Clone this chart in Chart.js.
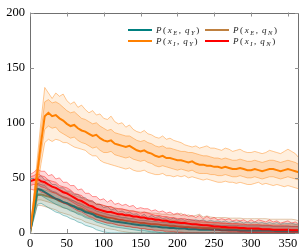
<!DOCTYPE html>
<html>
<head>
<meta charset="utf-8">
<script src="https://cdn.jsdelivr.net/npm/chart.js@4"></script>
<style>
  html, body { margin: 0; padding: 0; background: #fff; }
</style>
</head>
<body>
<canvas id="chart" width="304" height="252"></canvas>
<script>
// x positions (days)
const days = [0,5,10,15,20,25,30,35,40,45, 50,55,60,65,70,75,80,85,90,95,
  100,105,110,115,120,125,130,135,140,145, 150,155,160,165,170,175,180,185,190,195,
  200,205,210,215,220,225,230,235,240,245, 250,255,260,265,270,275,280,285,290,295,
  300,305,310,315,320,325,330,335,340,345, 350,355,360,365];

const yTicks = [0, 50, 100, 150, 200];
const xTicks = [0, 50, 100, 150, 200, 250, 300, 350];

// P(x_I, q_Y) - orange
const orangeMean = [0,27,55,82,106,109,106,107,104,102, 99,97,98,95,93,92,90,88,89,86,
  84,83,84,81,80,79,78,79,77,75, 74,75,73,72,70,69,70,68,68,67,
  66,66,65,64,65,63,62,62,61,61, 60,60,59,60,59,58,58,59,58,57,
  57,58,57,56,57,58,58,57,56,57, 58,57,56,55];
const orangeHi1 = [0,30,61,92,119,121,118,119,117,114, 111,109,110,107,104,103,101,99,100,97,
  95,93,94,91,90,89,88,88,86,84, 83,84,82,81,79,78,79,77,77,76,
  75,74,74,73,73,72,71,70,70,69, 68,68,67,68,67,66,66,67,66,65,
  65,66,65,64,65,66,66,65,64,65, 66,65,64,62];
const orangeLo1 = [0,24,49,72,94,97,95,96,92,90, 88,86,87,84,82,81,79,77,78,75,
  73,73,74,71,70,69,68,69,67,66, 65,66,64,63,61,60,61,60,59,58,
  57,58,57,56,57,55,54,54,54,53, 53,52,52,53,52,51,51,52,51,50,
  50,51,50,49,50,51,51,50,49,50, 51,50,49,48];
const orangeHi2 = [0,34,68,102,132,127,122,127,124,126, 120,117,119,114,116,112,109,111,107,108,
  104,103,106,101,99,100,96,98,94,92, 91,93,90,89,87,86,88,85,86,84,
  83,82,80,79,78,79,77,78,79,77, 77,76,75,77,76,74,75,76,74,73,
  73,74,73,72,73,75,74,73,72,74, 76,74,72,68];
const orangeLo2 = [0,21,42,63,82,85,83,85,84,82, 82,80,78,77,76,75,72,70,70,66,
  64,63,62,61,60,59,58,59,57,56, 56,57,55,54,53,53,54,52,52,51,
  52,51,52,50,51,50,49,48,49,48, 47,46,46,47,46,46,45,46,45,44,
  44,45,46,44,45,44,43,44,43,42, 43,42,41,40];

// P(x_I, q_N) - red
const redMean = [47,48,49,47,46,44,42,41,39,37, 36,34,32,30,29,27,25,24,22,21,
  20,19,19,18,17,17,16,16,15,15, 14,14,13,13,12,12,11,11,10,10,
  9.5,9,9,8.5,8,8,7.5,7,7,6.5, 6,6,5.5,5.5,5,5,5,4.5,4.5,4,
  4,4,4,3.5,3.5,3.5,3,3,3,3, 3,2.5,2.5,2.5];
const redHi1 = [51,52,54,52,51,48,47,46,43,42, 41,39,36,35,34,31,30,29,26,26,
  25,24,24,22,22,22,21,20,20,19, 18,19,18,17,16,16,15,15,14,14,
  13,13,13,12,12,11,11,11,10,10, 9.5,9.5,9,9,8.5,8.5,8.5,8,8,7.5,
  7.5,7.5,7.5,7,7,7,6.5,6.5,6.5,6.5, 6.5,6,6,6];
const redLo1 = [43,44,44,42,41,39,37,36,34,32, 31,29,27,25,24,22,20,19,17,16,
  15,14,14,13,12,12,11,11,10,10, 9,9,8,8,8,8,7,7,6,6,
  6,5,5,5,4.5,4.5,4,3.5,3.5,3, 2.5,2.5,2,2,1.5,1.5,1.5,1,1,0.5,
  0.5,0.5,0.5,0,0,0,0,0,0,0, 0,0,0,0];
const redHi2 = [53,55,58,56,56,52,53,49,50,46, 46,43,43,39,40,36,36,33,33,30,
  31,28,30,26,27,25,26,24,25,22, 23,22,22,20,21,19,20,18,19,17,
  18,16,17,15,16,14,16,13,15,13, 14,12,13,12,13,11,12,11,12,10,
  12,10,12,11,10,12,10,11,9,10, 11,9,10,8];
const redLo2 = [40,39,40,37,36,34,32,31,29,27, 26,24,22,20,19,17,15,14,12,11,
  10,9,9,8,7,7,6,6,5,5, 4,4,3,3,2,2,2,1,1,1,
  0.5,0.5,0,0,0,0,0,0,0,0, 0,0,0,0,0,0,0,0,0,0,
  0,0,0,0,0,0,0,0,0,0, 0,0,0,0];

// P(x_E, q_Y) - teal
const tealMean = [0,20,40,39,37,35,33,31,30,28, 27,25,24,22,21,19,18,17,15,14,
  13,12,11,10.5,10,9.5,9,8.5,8,7.5, 7,7,6.5,6,6,5.5,5,5,4.5,4.5,
  4,4,4,3.5,3.5,3.5,3,3,3,3, 3,3,2.5,2.5,2.5,2.5,2.5,2,2,2,
  2,2,2,2,2,2,2,1.5,1.5,1.5, 1.5,1.5,1.5,1.5];
const tealHi1 = [0,23,45,44,43,40,38,37,35,33, 32,30,29,27,26,24,23,22,20,19,
  18,17,16,15.5,15,14,14,13,13,12, 11.5,11.5,11,10.5,10.5,10,9.5,9.5,9,9,
  8.5,8.5,8.5,8,8,8,7.5,7.5,7.5,7.5, 7.5,7,7,7,7,7,7,6.5,6.5,6.5,
  6.5,6.5,6.5,6.5,6.5,6.5,6,6,6,6, 6,6,6,5.5];
const tealLo1 = [0,16,34,34,32,30,28,26,25,23, 22,20,19,17,16,14,13,12,10,9,
  8,7,6,5.5,5,4.5,4,3.5,3,2.5, 2,2,1.5,1,1,0.5,0,0,0,0,
  0,0,0,0,0,0,0,0,0,0, 0,0,0,0,0,0,0,0,0,0,
  0,0,0,0,0,0,0,0,0,0, 0,0,0,0];
const tealHi2 = [0,26,50,52,48,48,44,44,41,41, 38,38,35,35,32,32,29,29,26,26,
  23,24,21,22,19,20,18,19,17,17.5, 15,17,14,16,14,15,13,14,12.5,13.5,
  12,13,11.5,12.5,11.5,12,11,12,10.5,11.5, 10.5,11,10,11,9.5,10.5,9.5,10.5,9,10,
  9,10,9,9.5,8.5,9.5,8.5,9.5,8,9, 8.5,9,8,8];
const tealLo2 = [0,12,26,27,25,23,21,19,18,16, 15,13,12,10,9,7,6,5,3,2,
  1,0.5,0,0,0,0,0,0,0,0, 0,0,0,0,0,0,0,0,0,0,
  0,0,0,0,0,0,0,0,0,0, 0,0,0,0,0,0,0,0,0,0,
  0,0,0,0,0,0,0,0,0,0, 0,0,0,0];

// P(x_E, q_N) - brown
const brownMean = [0,18,35,35,34,33,32,31,29,28, 27,26,24,23,22,20,19,18,17,16,
  15,14,13.5,13,12,11.5,11,10.5,10,9.5, 9,9,8.5,8,8,7.5,7,7,6.5,6.5,
  6,6,5.5,5.5,5,5,5,4.5,4.5,4.5, 4,4,4,4,3.5,3.5,3.5,3.5,3,3,
  3,3,3,3,3,2.5,2.5,2.5,2.5,2.5, 2.5,2.5,2.5,2];
const brownHi1 = [0,21,40,40,39,38,37,36,34,33, 32,31,29,28,27,25,24,23,22,21,
  20,19,18.5,18,17,16.5,16,15.5,15,14.5, 14,14,13.5,13,13,12.5,12,12,11.5,11.5,
  11,11,10.5,10.5,10,10,10,9.5,9.5,9.5, 9,9,9,9,8.5,8.5,8.5,8.5,8,8,
  8,8,8,8,8,7.5,7.5,7.5,7.5,7.5, 7.5,7.5,7.5,7];
const brownLo1 = [0,15,30,30,29,28,27,26,24,23, 22,21,19,18,17,15,14,13,12,11,
  10,9,8.5,8,7,6.5,6,5.5,5,4.5, 4,4,3.5,3,3,2.5,2,2,1.5,1.5,
  1,1,0.5,0.5,0,0,0,0,0,0, 0,0,0,0,0,0,0,0,0,0,
  0,0,0,0,0,0,0,0,0,0, 0,0,0,0];
const brownHi2 = [0,23,45,46,44,43,42,41,39,38, 37,36,34,33,32,30,29,28,27,26,
  25,24,23.5,23,22,21.5,21,20.5,20,19.5, 19,19,18.5,18,18,17.5,17,17,16.5,16.5,
  17,18,15.5,16.5,15,16,17,14.5,15.5,14.5, 14,14,14,14,13.5,13.5,13.5,13.5,13,13,
  13,13,13,13,13,12.5,12.5,12.5,12.5,12.5, 12.5,12.5,12,11];
const brownLo2 = [0,13,25,25,24,23,22,21,19,18, 17,16,14,13,12,10,9,8,7,6,
  5,4,3.5,3,2,1.5,1,0.5,0,0, 0,0,0,0,0,0,0,0,0,0,
  0,0,0,0,0,0,0,0,0,0, 0,0,0,0,0,0,0,0,0,0,
  0,0,0,0,0,0,0,0,0,0, 0,0,0,0];

// legend labels as [text, style] pieces: i = italic, n = upright, s = italic subscript
const legendItems = [
  { color: '#008080', pieces: [['P','i'],['(','n'],['x','i'],['E','s'],[', ','n'],['q','i'],['Y','s'],[')','n']] },
  { color: '#bf8040', pieces: [['P','i'],['(','n'],['x','i'],['E','s'],[', ','n'],['q','i'],['N','s'],[')','n']] },
  { color: '#ff8000', pieces: [['P','i'],['(','n'],['x','i'],['I','s'],[', ','n'],['q','i'],['Y','s'],[')','n']] },
  { color: '#ff0000', pieces: [['P','i'],['(','n'],['x','i'],['I','s'],[', ','n'],['q','i'],['N','s'],[')','n']] },
];

const pts = a => a.map((v, i) => ({ x: days[i], y: v }));

function bandSets(lo2, lo1, mean, hi1, hi2, rgb, base, a1, a2) {
  const edge = `rgba(${rgb},0.6)`;
  const thin = { borderColor: edge, borderWidth: 0.7, pointRadius: 0 };
  return [
    { ...thin, data: pts(lo2), fill: false, order: base + 4 },
    { ...thin, data: pts(hi2), fill: '-1', backgroundColor: `rgba(${rgb},${a1})`, order: base + 3 },
    { ...thin, data: pts(lo1), fill: false, order: base + 2 },
    { ...thin, data: pts(hi1), fill: '-1', backgroundColor: `rgba(${rgb},${a2})`, order: base + 1 },
    { data: pts(mean), borderColor: `rgb(${rgb})`, borderWidth: 2, pointRadius: 0, fill: false, order: base },
  ];
}

const datasets = [
  ...bandSets(brownLo2, brownLo1, brownMean, brownHi1, brownHi2, '191,128,64', 30, 0.13, 0.18),
  ...bandSets(tealLo2, tealLo1, tealMean, tealHi1, tealHi2, '0,128,128', 20, 0.13, 0.18),
  ...bandSets(redLo2, redLo1, redMean, redHi1, redHi2, '255,0,0', 10, 0.15, 0.2),
  ...bandSets(orangeLo2, orangeLo1, orangeMean, orangeHi1, orangeHi2, '255,128,0', 0, 0.13, 0.18),
];

const tickFont = { family: '"Liberation Serif", serif', size: 12.5 };

// pgfplots-like frame with inward tick marks
const framePlugin = {
  id: 'frame',
  afterDatasetsDraw(chart) {
    const { ctx, chartArea: a, scales: { x, y } } = chart;
    ctx.save();
    ctx.strokeStyle = '#707070';
    ctx.lineWidth = 1;
    ctx.strokeRect(Math.round(a.left) + 0.5, Math.round(a.top) + 0.5,
      Math.round(a.right - a.left) - 1, Math.round(a.bottom - a.top) - 1);
    ctx.strokeStyle = '#909090';
    ctx.beginPath();
    xTicks.forEach(v => {
      const px = Math.round(x.getPixelForValue(v)) + 0.5;
      ctx.moveTo(px, a.bottom); ctx.lineTo(px, a.bottom - 4);
      ctx.moveTo(px, a.top); ctx.lineTo(px, a.top + 4);
    });
    yTicks.forEach(v => {
      const py = Math.round(y.getPixelForValue(v)) + 0.5;
      ctx.moveTo(a.left, py); ctx.lineTo(a.left + 4, py);
      ctx.moveTo(a.right, py); ctx.lineTo(a.right - 4, py);
    });
    ctx.stroke();
    ctx.restore();
  }
};

const legendPlugin = {
  id: 'mathLegend',
  afterDraw(chart) {
    const ctx = chart.ctx;
    const cols = [128, 205];
    const rows = [30, 41];
    ctx.save();
    ctx.textBaseline = 'alphabetic';
    legendItems.forEach((item, k) => {
      const lx = cols[k % 2], ly = rows[Math.floor(k / 2)];
      ctx.strokeStyle = item.color;
      ctx.lineWidth = 2;
      ctx.beginPath();
      ctx.moveTo(lx, ly); ctx.lineTo(lx + 24, ly);
      ctx.stroke();
      let tx = lx + 28;
      ctx.fillStyle = '#222';
      item.pieces.forEach(([t, st]) => {
        if (st === 's') ctx.font = 'italic 6.5px "Liberation Serif"';
        else if (st === 'i') ctx.font = 'italic 9px "Liberation Serif"';
        else ctx.font = '9px "Liberation Serif"';
        const dy = st === 's' ? 2 : 0;
        ctx.fillText(t, tx, ly + 3 + dy);
        tx += ctx.measureText(t).width + 1.6;
      });
    });
    ctx.restore();
  }
};

new Chart(document.getElementById('chart'), {
  type: 'line',
  data: { datasets },
  options: {
    responsive: false,
    animation: false,
    events: [],
    layout: { padding: { top: 10, right: 5, left: 0, bottom: 0 } },
    elements: { line: { tension: 0 } },
    plugins: { legend: { display: false }, tooltip: { enabled: false } },
    scales: {
      x: {
        type: 'linear', min: 0, max: 365,
        grid: { display: false, drawTicks: false },
        border: { display: false },
        ticks: { stepSize: 50, includeBounds: false, autoSkip: false, maxRotation: 0,
          color: '#000', font: tickFont, padding: 3 },
        afterFit: s => { s.height = 19; }
      },
      y: {
        min: 0, max: 200,
        grid: { display: false, drawTicks: false },
        border: { display: false },
        ticks: { stepSize: 50, color: '#000', font: tickFont, padding: 5 },
        afterFit: s => { s.width = 30; }
      }
    }
  },
  plugins: [framePlugin, legendPlugin]
});
</script>
</body>
</html>
